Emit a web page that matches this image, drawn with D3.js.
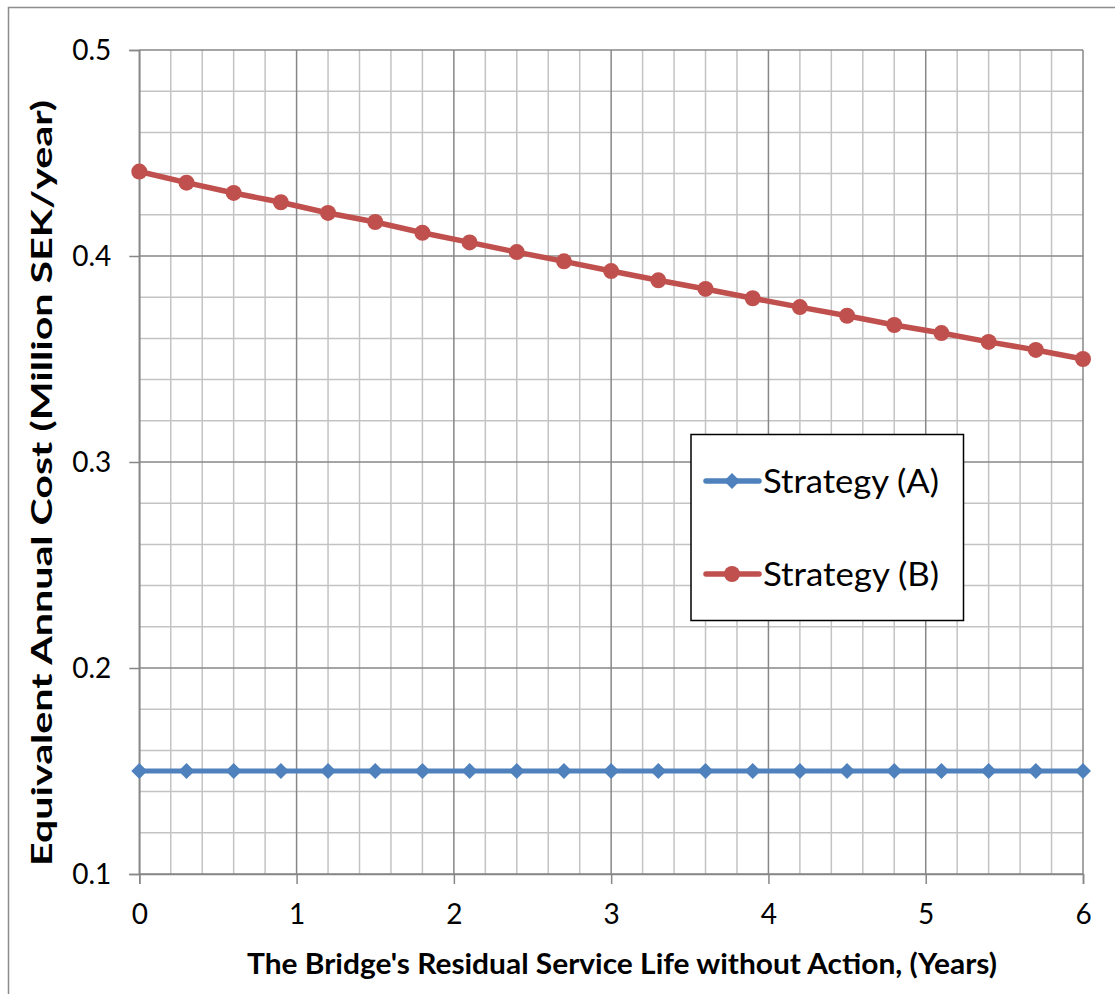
<!DOCTYPE html>
<html>
<head>
<meta charset="utf-8">
<script src="https://cdn.jsdelivr.net/npm/d3@7"></script>
<style>
  html, body { margin: 0; padding: 0; background: #fff; }
  svg { display: block; font-family: Lato, "Open Sans", sans-serif; }
</style>
</head>
<body>
<svg id="chart" width="1115" height="994"></svg>
<script>
// Residual service life (years)
const years = [0, 0.3, 0.6, 0.9, 1.2, 1.5, 1.8, 2.1, 2.4, 2.7, 3.0, 3.3, 3.6, 3.9, 4.2, 4.5, 4.8, 5.1, 5.4, 5.7, 6.0];
// Equivalent annual cost (million SEK/year)
const strategyA = [0.15, 0.15, 0.15, 0.15, 0.15, 0.15, 0.15, 0.15, 0.15, 0.15, 0.15, 0.15, 0.15, 0.15, 0.15, 0.15, 0.15, 0.15, 0.15, 0.15, 0.15];
const strategyB = [0.441, 0.4356, 0.4306, 0.4261, 0.4209, 0.4165, 0.4113, 0.4066, 0.4019, 0.3974, 0.3927, 0.3882, 0.384, 0.3795, 0.3752, 0.371, 0.3665, 0.3626, 0.3583, 0.3544, 0.350];
const seriesNames = ["Strategy (A)", "Strategy (B)"];
const xTicks = [0, 1, 2, 3, 4, 5, 6];
const yTicks = [0.1, 0.2, 0.3, 0.4, 0.5];
const xTitle = "The Bridge's Residual Service Life without Action, (Years)";
const yTitle = "Equivalent Annual Cost (Million SEK/year)";

const svg = d3.select("#chart");
const plotLeft = 139.3, plotRight = 1083, plotTop = 50, plotBottom = 874;

const x = d3.scaleLinear().domain([0, 6]).range([plotLeft, plotRight]);
const y = d3.scaleLinear().domain([0.1, 0.5]).range([plotBottom, plotTop]);

const blue = "#4F81BD", red = "#C0504D";
const majorGrid = "#878787", minorGrid = "#c3c3c3";

// Chart frame
svg.append("path")
  .attr("d", "M8.5,994 V7.5 H1115")
  .attr("fill", "none").attr("stroke", "#8c8c8c").attr("stroke-width", 1.5);

// Minor gridlines
const xMinor = d3.range(0, 6.0001, 0.2).filter(v => Math.abs(v - Math.round(v)) > 1e-6);
const yMinor = d3.range(0.1, 0.5001, 0.02).filter(v => Math.abs(v * 10 - Math.round(v * 10)) > 1e-6);
const grid = svg.append("g");
grid.selectAll(".vminor").data(xMinor).join("line")
  .attr("x1", d => x(d)).attr("x2", d => x(d)).attr("y1", plotTop).attr("y2", plotBottom)
  .attr("stroke", minorGrid).attr("stroke-width", 1.5);
grid.selectAll(".hminor").data(yMinor).join("line")
  .attr("x1", plotLeft).attr("x2", plotRight).attr("y1", d => y(d)).attr("y2", d => y(d))
  .attr("stroke", minorGrid).attr("stroke-width", 1.5);

// Major gridlines
grid.selectAll(".vmajor").data(xTicks).join("line")
  .attr("x1", d => x(d)).attr("x2", d => x(d)).attr("y1", plotTop).attr("y2", plotBottom)
  .attr("stroke", majorGrid).attr("stroke-width", 1.5);
grid.selectAll(".hmajor").data(yTicks).join("line")
  .attr("x1", plotLeft).attr("x2", plotRight).attr("y1", d => y(d)).attr("y2", d => y(d))
  .attr("stroke", majorGrid).attr("stroke-width", 1.5);

// Axes
const xAxis = svg.append("g").attr("transform", `translate(0,${plotBottom})`)
  .call(d3.axisBottom(x).tickValues(xTicks).tickSize(10).tickPadding(20).tickFormat(d3.format("d")));
const yAxis = svg.append("g").attr("transform", `translate(${plotLeft},0)`)
  .call(d3.axisLeft(y).tickValues(yTicks).tickSize(10).tickPadding(18).tickFormat(d3.format(".1f")));
[xAxis, yAxis].forEach(a => {
  a.select(".domain").attr("stroke", majorGrid).attr("stroke-width", 1.5);
  a.selectAll(".tick line").attr("stroke", majorGrid).attr("stroke-width", 1.5);
  a.selectAll(".tick text").attr("fill", "#000").style("font-size", "28px")
   .style("font-family", "Lato, 'Open Sans', sans-serif");
});
xAxis.selectAll(".tick text").attr("dy", "0.71em");
yAxis.selectAll(".tick text").attr("dy", "0.35em");

// Axis titles
svg.append("text")
  .attr("x", 622).attr("y", 974).attr("text-anchor", "middle")
  .attr("font-weight", "bold").attr("font-size", 29)
  .attr("textLength", 750).attr("lengthAdjust", "spacingAndGlyphs")
  .text(xTitle);
svg.append("text")
  .attr("transform", "translate(52,483) rotate(-90)")
  .attr("text-anchor", "middle")
  .attr("font-weight", "bold").attr("font-size", 29)
  .attr("textLength", 766).attr("lengthAdjust", "spacingAndGlyphs")
  .text(yTitle);

// Series
const line = d3.line().x((d, i) => x(years[i])).y(d => y(d));
svg.append("path").datum(strategyA).attr("d", line)
  .attr("fill", "none").attr("stroke", blue).attr("stroke-width", 5);
svg.append("path").datum(strategyB).attr("d", line)
  .attr("fill", "none").attr("stroke", red).attr("stroke-width", 5.5);

const diamond = (cx, cy, r) => `M${cx},${cy - r}L${cx + r},${cy}L${cx},${cy + r}L${cx - r},${cy}Z`;
svg.append("g").selectAll("path").data(strategyA).join("path")
  .attr("d", (d, i) => diamond(x(years[i]), y(d), 8))
  .attr("fill", blue);
svg.append("g").selectAll("circle").data(strategyB).join("circle")
  .attr("cx", (d, i) => x(years[i])).attr("cy", d => y(d)).attr("r", 8)
  .attr("fill", red);

// Legend
const lg = svg.append("g");
lg.append("rect").attr("x", 691).attr("y", 434.5).attr("width", 272.5).attr("height", 186)
  .attr("fill", "#fff").attr("stroke", "#000").attr("stroke-width", 1.5);
const rows = [
  { name: seriesNames[0], color: blue, cy: 481, shape: "diamond" },
  { name: seriesNames[1], color: red, cy: 574, shape: "circle" }
];
rows.forEach(r => {
  lg.append("line").attr("x1", 706).attr("x2", 759).attr("y1", r.cy).attr("y2", r.cy)
    .attr("stroke", r.color).attr("stroke-width", 5.5).attr("stroke-linecap", "round");
  if (r.shape === "diamond") {
    lg.append("path").attr("d", diamond(732, r.cy, 8)).attr("fill", r.color);
  } else {
    lg.append("circle").attr("cx", 732).attr("cy", r.cy).attr("r", 8).attr("fill", r.color);
  }
  lg.append("text").attr("x", 763).attr("y", r.cy).attr("dy", "0.36em")
    .attr("font-size", 33).attr("textLength", 176).attr("lengthAdjust", "spacingAndGlyphs")
    .text(r.name);
});
</script>
</body>
</html>
